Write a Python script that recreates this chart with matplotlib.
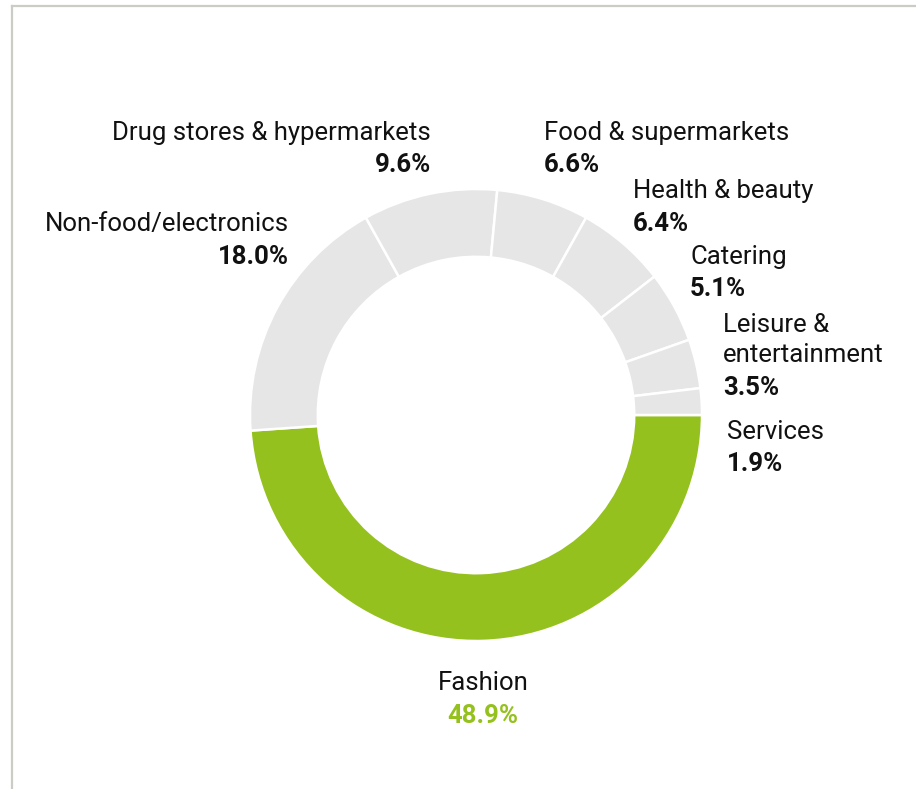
import matplotlib
matplotlib.use("Agg")
import matplotlib.pyplot as plt
from matplotlib.lines import Line2D

categories = ["Fashion", "Non-food/electronics", "Drug stores & hypermarkets",
              "Food & supermarkets", "Health & beauty", "Catering",
              "Leisure &\nentertainment", "Services"]
shares = [48.9, 18.0, 9.6, 6.6, 6.4, 5.1, 3.5, 1.9]
pct_labels = ["48.9%", "18.0%", "9.6%", "6.6%", "6.4%", "5.1%", "3.5%", "1.9%"]

GREEN = "#95c11f"
GREY = "#e6e6e6"
colors = [GREEN] + [GREY] * (len(shares) - 1)

W, H = 916, 789
CX, CY, R = 476, 415, 226  # pixel layout of donut (from top-left)

fig = plt.figure(figsize=(W / 100, H / 100), dpi=100)
ax = fig.add_axes([0, 0, 1, 1])

ax.pie(shares, colors=colors, startangle=0, counterclock=False, radius=1.0,
       wedgeprops=dict(width=0.30, edgecolor="white", linewidth=1.8))
ax.set_aspect("auto")
ax.set_xlim(-CX / R, (W - CX) / R)
ax.set_ylim(-(H - CY) / R, CY / R)
ax.axis("off")


def px(x, y):
    return (x - CX) / R, (CY - y) / R

FONT = ["Roboto", "DejaVu Sans"]
FS = 18.5
# label layout: (x_px, name_y_px, pct_y_px, ha)
layout = [
    (483, 683, 716, "center"),
    (289, 224, 257, "right"),
    (431, 133, 165, "right"),
    (544, 133, 165, "left"),
    (633, 191, 224, "left"),
    (690, 257, 289, "left"),
    (723, 340, 388, "left"),
    (727, 432, 464, "left"),
]
for i, (cat, pct) in enumerate(zip(categories, pct_labels)):
    x, yn, yp, ha = layout[i]
    ax.text(*px(x, yn), cat, ha=ha, va="center", fontsize=FS, family=FONT,
            color="#111111", linespacing=1.3)
    ax.text(*px(x, yp), pct, ha=ha, va="center", fontsize=FS, family=FONT,
            fontweight="bold", color=GREEN if i == 0 else "#111111")

# frame lines (top and left)
border = "#c9cdc5"
fig.add_artist(Line2D([11.5 / W, 1], [1 - 5.5 / H, 1 - 5.5 / H], transform=fig.transFigure,
                      color=border, linewidth=1.6))
fig.add_artist(Line2D([11.5 / W, 11.5 / W], [0, 1 - 5.5 / H], transform=fig.transFigure,
                      color=border, linewidth=1.6))

fig.savefig("out.png", dpi=100)
